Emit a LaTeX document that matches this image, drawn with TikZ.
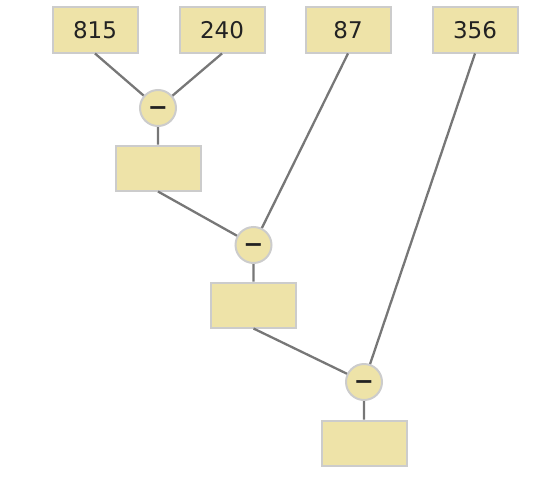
\documentclass[tikz,border=0pt]{standalone}
\usepackage{fontspec}
\setmainfont{DejaVu Sans}
\definecolor{boxfill}{HTML}{EEE3A8}
\definecolor{boxline}{HTML}{CCCCCC}
\definecolor{conn}{HTML}{777777}
\definecolor{txt}{HTML}{222222}
\newcommand{\opminus}{\raisebox{-7.6pt}[0pt][0pt]{−}}
\begin{document}
\begin{tikzpicture}[x=1pt,y=-1pt,
  numbox/.style={draw=boxline,line width=2pt,fill=boxfill,minimum width=85pt,minimum height=45pt,inner sep=0pt,text=txt,font=\fontsize{23}{27}\selectfont},
  opnode/.style={circle,draw=boxline,line width=2pt,fill=boxfill,minimum size=36pt,inner sep=0pt,text=txt,font=\fontsize{24}{27}\selectfont\bfseries},
  conn/.style={draw=conn,line width=2.3pt}]
\useasboundingbox (0,0) rectangle (545,487);
\node[numbox] (a) at (95,30) {815};
\node[numbox] (b) at (222,30) {240};
\node[numbox] (c) at (348,30) {87};
\node[numbox] (d) at (475,30) {356};
\node[opnode] (o1) at (158,108) {\opminus};
\node[numbox] (r1) at (158,168) {};
\node[opnode] (o2) at (253.5,245) {\opminus};
\node[numbox] (r2) at (253.5,305) {};
\node[opnode] (o3) at (364,382) {\opminus};
\node[numbox] (r3) at (364,443) {};
\path[conn] (a.south) -- (o1) (b.south) -- (o1) (o1) -- (r1.north)
  (r1.south) -- (o2) (c.south) -- (o2) (o2) -- (r2.north)
  (r2.south) -- (o3) (d.south) -- (o3) (o3) -- (r3.north);
\end{tikzpicture}
\end{document}
